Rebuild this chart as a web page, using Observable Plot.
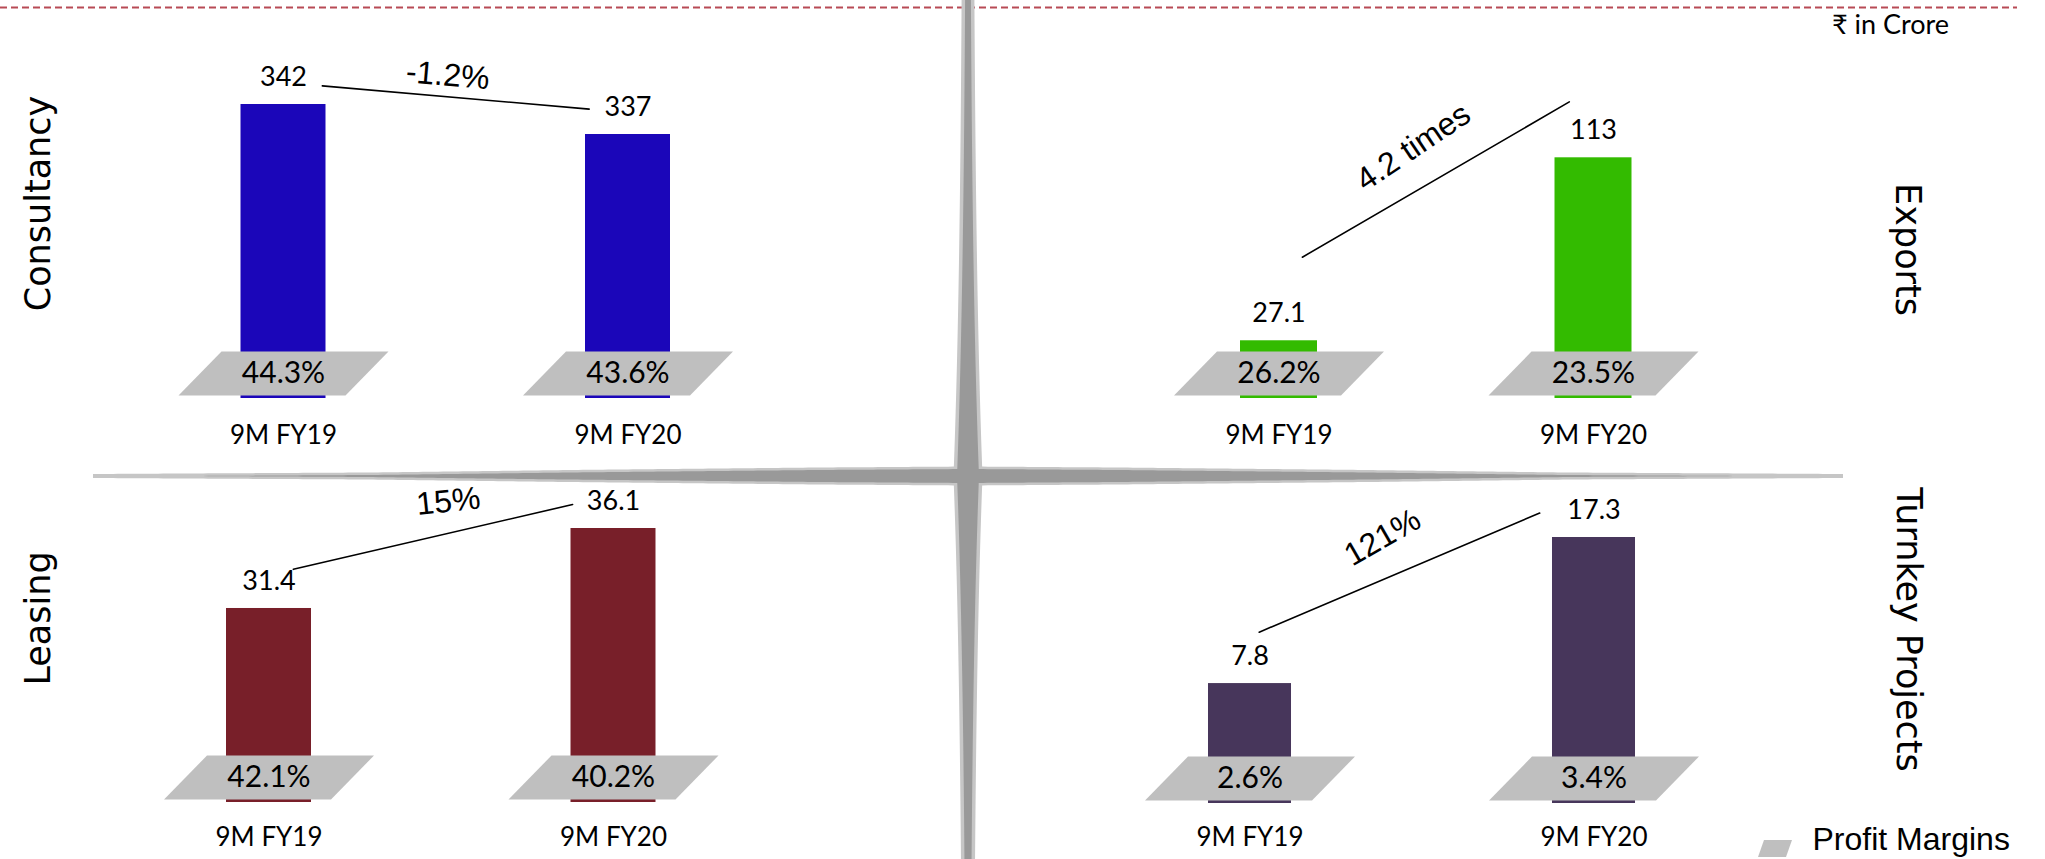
<!DOCTYPE html>
<html><head><meta charset="utf-8">
<script src="https://cdn.jsdelivr.net/npm/d3@7"></script>
<script src="https://cdn.jsdelivr.net/npm/@observablehq/plot@0.6"></script>
<style>
html,body{margin:0;padding:0;background:#fff;}
#chart{position:relative;width:2045px;height:859px;overflow:hidden;background:#fff;}
#chart svg{position:absolute;left:0;top:0;}
</style></head><body><div id="chart"></div>
<script>
// ---------- data ----------
const periods = ["9M FY19", "9M FY20"];
const segments = ["Consultancy", "Exports", "Leasing", "Turnkey Projects"];
const consultancyRevenue = [342, 337];
const exportsRevenue = [27.1, 113];
const leasingRevenue = [31.4, 36.1];
const turnkeyRevenue = [7.8, 17.3];
const consultancyMargin = [44.3, 43.6];
const exportsMargin = [26.2, 23.5];
const leasingMargin = [42.1, 40.2];
const turnkeyMargin = [2.6, 3.4];
const growthLabels = ["-1.2%", "4.2 times", "15%", "121%"];
const unitLabel = "₹ in Crore";
const legendLabel = "Profit Margins";

// ---------- layout / style ----------
const W = 2045, H = 859;
const labelFont = "Lato, 'Open Sans', sans-serif";
const titleFont = "'DejaVu Sans', sans-serif";
const noteFont = "'Liberation Sans', Arial, sans-serif";
const svgStyle = "background: transparent; max-width: none; overflow: visible; position: absolute; left: 0; top: 0;";
const marginFill = "#bfbfbf";

const marginShape = {draw(ctx) { ctx.moveTo(-62, -22); ctx.lineTo(105, -22); ctx.lineTo(62, 22); ctx.lineTo(-105, 22); ctx.closePath(); }};
const legendShape = {draw(ctx) { ctx.moveTo(-11, -8.5); ctx.lineTo(17, -8.5); ctx.lineTo(11, 8.5); ctx.lineTo(-17, 8.5); ctx.closePath(); }};

const panels = [
  {values: consultancyRevenue, margins: consultancyMargin, growth: growthLabels[0], color: "#1b06b9",
   xRange: [110.75, 799.75], pad: 0.7533, yDomain: [293, 342], yRange: [398, 104], tickDy: 37,
   link: {dy: -22, insetStart: 39, insetEnd: 39}, note: {ox: -8, oy: -44, rotate: 5}},
  {values: exportsRevenue, margins: exportsMargin, growth: growthLabels[1], color: "#33bb00",
   xRange: [1121.25, 1750.25], pad: 0.7552, yDomain: [0, 113], yRange: [398, 157.3], tickDy: 37,
   link: {dy: -70, insetStart: 27, insetEnd: 28}, note: {ox: -23, oy: -102, rotate: -34}},
  {values: leasingRevenue, margins: leasingMargin, growth: growthLabels[2], color: "#781f29",
   xRange: [96.25, 785.25], pad: 0.7533, yDomain: [20, 36.1], yRange: [802, 528], tickDy: 35,
   link: {dy: -33.5, insetStart: 25, insetEnd: 42}, note: {ox: 7, oy: -67, rotate: -6}},
  {values: turnkeyRevenue, margins: turnkeyMargin, growth: growthLabels[3], color: "#47365b",
   xRange: [1077.5, 1765.5], pad: 0.7587, yDomain: [0, 17.3], yRange: [803, 537], tickDy: 34,
   link: {dy: -47.5, insetStart: 10, insetEnd: 59}, note: {ox: -39.5, oy: -73, rotate: -30}}
];

const chart = document.getElementById("chart");

// ---------- decoration: star divider, dashed rule, titles, legend ----------
const cx = 967.5, cy = 475.5;
const hwV = d => 5 + 9.5 * Math.exp(-d / 250);
const hwH = d3.scaleLinear().domain([0, 150, 400, 600, 876]).range([9.5, 8.5, 6, 3.5, 2]).clamp(true);
function arm(id, dir, len, hw, shrink) {
  const pts = [];
  const ds = d3.range(0, len + 1, 5);
  const w = d => Math.max(0, hw(d) - shrink);
  if (dir === "up" || dir === "down") {
    const s = dir === "up" ? -1 : 1;
    ds.forEach(d => pts.push({arm: id, x: cx + w(d), y: cy + s * d}));
    ds.slice().reverse().forEach(d => pts.push({arm: id, x: cx - w(d), y: cy + s * d}));
  } else {
    const s = dir === "left" ? -1 : 1;
    ds.forEach(d => pts.push({arm: id, x: cx + s * d, y: cy - w(d)}));
    ds.slice().reverse().forEach(d => pts.push({arm: id, x: cx + s * d, y: cy + w(d)}));
  }
  return pts;
}
const lightStar = [
  ...arm("u", "up", 520, hwV, 0), ...arm("d", "down", 430, hwV, 0),
  ...arm("l", "left", 875.5, hwH, 0), ...arm("r", "right", 875.5, hwH, 0)
];
const darkStar = [
  ...arm("u", "up", 520, hwV, 3.5), ...arm("d", "down", 430, hwV, 3.5),
  ...arm("l", "left", 875.5, hwH, 2.5), ...arm("r", "right", 875.5, hwH, 2.5)
];

const deco = Plot.plot({
  width: W, height: H, margin: 0,
  x: {type: "identity", axis: null}, y: {type: "identity", axis: null},
  style: svgStyle,
  marks: [
    Plot.ruleY([7], {x1: 0, x2: 2017, stroke: "#b84a55", strokeWidth: 2, strokeDasharray: "7,4"}),
    Plot.line(lightStar, {x: "x", y: "y", z: "arm", fill: "#c6c6c6", stroke: "none"}),
    Plot.line(darkStar, {x: "x", y: "y", z: "arm", fill: "#999999", stroke: "none"}),
    Plot.text([segments[0]], {x: 38, y: 203, text: d => d, rotate: -90, fontSize: 35, fontFamily: titleFont, fill: "#000"}),
    Plot.text([segments[1]], {x: 1907, y: 249, text: d => d, rotate: 90, fontSize: 35, fontFamily: titleFont, fill: "#000"}),
    Plot.text([segments[2]], {x: 38, y: 618, text: d => d, rotate: -90, fontSize: 35, fontFamily: titleFont, fill: "#000"}),
    Plot.text([segments[3]], {x: 1908, y: 629, text: d => d, rotate: 90, fontSize: 35, fontFamily: titleFont, fill: "#000"}),
    Plot.text([unitLabel], {x: 1890, y: 25, text: d => d, fontSize: 27, fontFamily: labelFont, fill: "#000"}),
    Plot.dot([legendLabel], {x: 1774.5, y: 848, symbol: legendShape, fill: marginFill, stroke: "none"}),
    Plot.text([legendLabel], {x: 1812, y: 839, text: d => d, textAnchor: "start", fontSize: 32, fontFamily: noteFont, fill: "#000"})
  ]
});
chart.appendChild(deco);

// ---------- the four segment panels ----------
for (const panel of panels) {
  const rows = periods.map((p, i) => ({period: p, value: panel.values[i], margin: panel.margins[i]}));
  const base = panel.yDomain[0];
  const step = (panel.xRange[1] - panel.xRange[0]) / 2; // distance between the two band centres
  const growth = [{p1: periods[0], p2: periods[1], v1: panel.values[0], v2: panel.values[1], label: panel.growth}];
  const svg = Plot.plot({
    width: W, height: H, margin: 0,
    style: svgStyle,
    x: {type: "band", domain: periods, range: panel.xRange, paddingInner: panel.pad, paddingOuter: panel.pad / 2, align: 0.5, round: false, axis: null},
    y: {type: "linear", domain: panel.yDomain, range: panel.yRange, axis: null},
    marks: [
      Plot.barY(rows, {x: "period", y1: base, y2: "value", fill: panel.color}),
      Plot.dot(rows, {x: "period", y: base, dy: -25, symbol: marginShape, fill: marginFill, stroke: "none"}),
      Plot.text(rows, {x: "period", y: base, dy: -25, text: d => d.margin.toFixed(1) + "%", fontSize: 30, fontFamily: labelFont, fill: "#000"}),
      Plot.text(rows, {x: "period", y: "value", dy: -27, text: d => String(d.value), fontSize: 27, fontFamily: labelFont, fill: "#000"}),
      Plot.text(rows, {x: "period", y: base, dy: panel.tickDy, text: "period", fontSize: 26, fontFamily: labelFont, fill: "#000"}),
      Plot.arrow(growth, {x1: "p1", y1: "v1", x2: "p2", y2: "v2", headLength: 0, bend: 0,
        insetStart: panel.link.insetStart, insetEnd: panel.link.insetEnd, dy: panel.link.dy, stroke: "#000", strokeWidth: 1.6}),
      Plot.text(growth, {x: "p1", y: d => (d.v1 + d.v2) / 2, text: "label", dx: step / 2 + panel.note.ox, dy: panel.note.oy,
        rotate: panel.note.rotate, fontSize: 32, fontFamily: noteFont, fill: "#000"})
    ]
  });
  chart.appendChild(svg);
}
</script>
</body></html>
